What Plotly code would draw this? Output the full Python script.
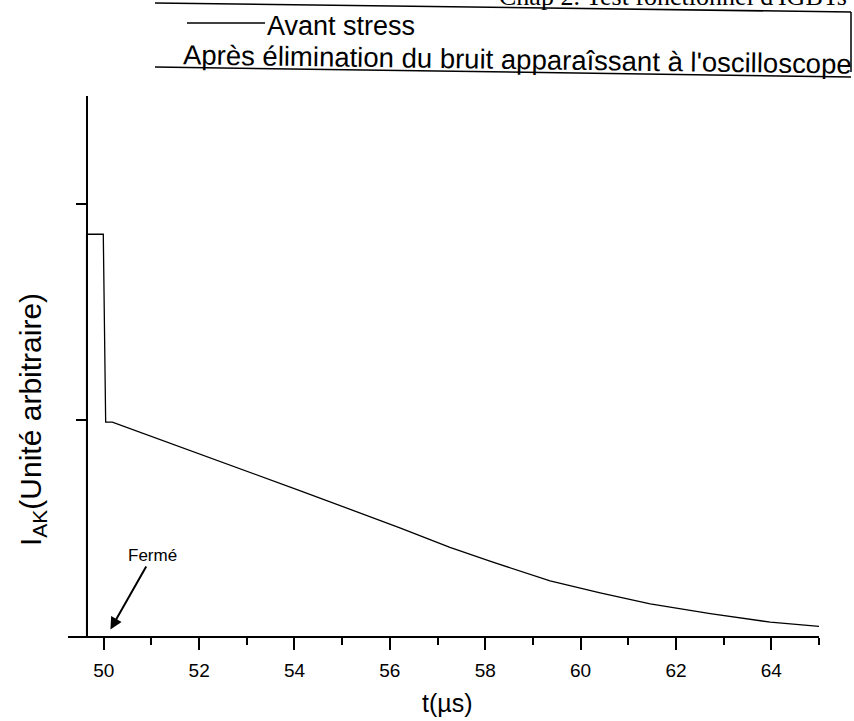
import plotly.graph_objects as go

# ---- data ----
t_us = [49.64, 49.64, 49.99, 50.04, 50.18, 52.01, 54.11, 56.21, 57.26, 58.16,
        59.36, 60.41, 61.46, 62.72, 63.98, 65.0]
i_ak = [0.0, 1.86, 1.86, 0.99, 0.99, 0.844, 0.673, 0.501, 0.41, 0.342,
        0.255, 0.20, 0.149, 0.104, 0.064, 0.045]

x_tickvals = [50, 52, 54, 56, 58, 60, 62, 64]
x_ticktext = ["50", "52", "54", "56", "58", "60", "62", "64"]
y_tickvals = [1, 2]

series_name = "Avant stress"
legend_note = "Après élimination du bruit apparaîssant à l'oscilloscope"
header_text = "Chap 2. Test fonctionnel d'IGBTs"
x_title = "t(µs)"
y_title = "I<sub>AK</sub>(Unité arbitraire)"
arrow_label = "Fermé"
arrow_point = (50.14, 0.03)

X_RANGE = [49.25, 65.0]
Y_RANGE = [0.0, 2.5]

W, H = 854, 721
ML, MR, MT, MB = 68, 35, 96, 85
PW, PH = W - ML - MR, H - MT - MB


def px(x):
    return (x - ML) / PW


def py(y):
    return (H - MB - y) / PH


FONT = "Liberation Sans, Arial, sans-serif"

fig = go.Figure()
fig.add_trace(go.Scatter(x=t_us, y=i_ak, mode="lines",
                         line=dict(color="black", width=1.3),
                         name=series_name, showlegend=False))

yaxis_pos = (t_us[0] - X_RANGE[0]) / (X_RANGE[1] - X_RANGE[0])

fig.update_layout(
    width=W, height=H,
    margin=dict(l=ML, r=MR, t=MT, b=MB, pad=0),
    paper_bgcolor="white", plot_bgcolor="white",
    font=dict(family=FONT, color="black"),
    xaxis=dict(range=X_RANGE, showgrid=False, zeroline=False,
               showline=True, linecolor="black", linewidth=2,
               ticks="outside", ticklen=12, tickwidth=2, tickcolor="black",
               tickvals=x_tickvals, ticktext=x_ticktext,
               tickfont=dict(size=19, family=FONT),
               ticklabelstandoff=4,
               minor=dict(dtick=1, tick0=49, ticks="outside", ticklen=7,
                          tickwidth=2, tickcolor="black", showgrid=False)),
    yaxis=dict(range=Y_RANGE, showgrid=False, zeroline=False,
               anchor="free", position=yaxis_pos,
               showline=True, linecolor="black", linewidth=2,
               ticks="outside", ticklen=10, tickwidth=2, tickcolor="black",
               tickvals=y_tickvals, showticklabels=False),
)

# axis titles
fig.add_annotation(xref="paper", yref="paper", x=px(447), y=py(703),
                   xanchor="center", yanchor="middle",
                   text=x_title, showarrow=False,
                   font=dict(size=25, family=FONT))
fig.add_annotation(xref="paper", yref="paper", x=px(32), y=py(420),
                   xanchor="center", yanchor="middle",
                   text=y_title, showarrow=False, textangle=-90,
                   font=dict(size=30, family=FONT))

# arrow annotation
fig.add_annotation(x=arrow_point[0], y=arrow_point[1], xref="x", yref="y",
                   text=arrow_label, showarrow=True, arrowhead=2,
                   arrowsize=1.2, arrowwidth=2, arrowcolor="black",
                   ax=42, ay=-74, standoff=0,
                   font=dict(size=17, family=FONT))

# legend box (scanned page header style)
shape_line = dict(color="black", width=1.5)
fig.add_shape(type="line", xref="paper", yref="paper",
              x0=px(155), y0=py(3), x1=px(851), y1=py(12), line=shape_line)
fig.add_shape(type="line", xref="paper", yref="paper",
              x0=px(851), y0=py(12), x1=px(851), y1=py(72), line=shape_line)
fig.add_shape(type="line", xref="paper", yref="paper",
              x0=px(155), y0=py(67), x1=px(851), y1=py(77), line=shape_line)
fig.add_shape(type="line", xref="paper", yref="paper",
              x0=px(187), y0=py(23), x1=px(265), y1=py(23),
              line=dict(color="black", width=1.3))

fig.add_annotation(xref="paper", yref="paper", x=px(265), y=py(26),
                   xanchor="left", yanchor="middle", text=series_name,
                   showarrow=False, font=dict(size=27, family=FONT))
fig.add_annotation(xref="paper", yref="paper", x=px(517), y=py(59),
                   xanchor="center", yanchor="middle", text=legend_note,
                   showarrow=False, textangle=0.8,
                   font=dict(size=27.5, family=FONT))
fig.add_annotation(xref="paper", yref="paper", x=px(849), y=py(-3),
                   xanchor="right", yanchor="middle", text=header_text,
                   showarrow=False,
                   font=dict(size=26, family="Liberation Serif, Times New Roman, serif"))

fig.write_html("out.html",
               config={"displayModeBar": False},
               post_script="document.body.style.margin='0px';document.body.style.overflow='hidden';")
